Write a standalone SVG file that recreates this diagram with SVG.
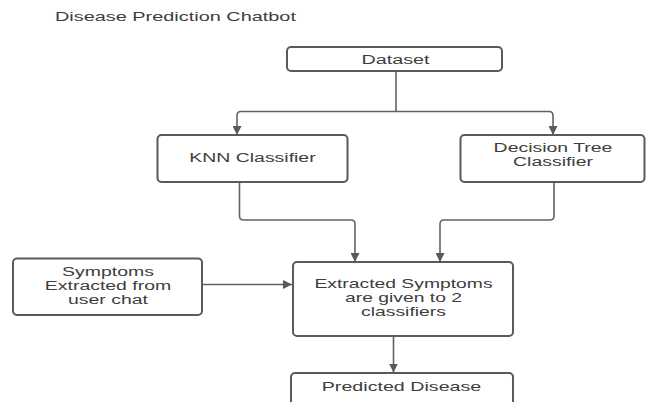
<svg xmlns="http://www.w3.org/2000/svg" width="647" height="402" viewBox="0 0 647 402">
  <defs>
    <style>
      .box { fill: #ffffff; stroke: #5a5a5a; stroke-width: 2; }
      .lbl { font-family: "Liberation Sans", Arial, sans-serif; font-size: 12px; fill: #3d3d3d; text-anchor: middle; }
      .title { font-family: "Liberation Sans", Arial, sans-serif; font-size: 13px; fill: #3d3d3d; }
      .conn { fill: none; stroke: #626262; stroke-width: 1.6; }
    </style>
    <marker id="arrow" viewBox="0 0 9 9" refX="9" refY="4.5" markerWidth="9" markerHeight="9" markerUnits="userSpaceOnUse" orient="auto">
      <path d="M0,0 L9,4.5 L0,9 z" fill="#5a5a5a"/>
    </marker>
  </defs>
  <rect width="647" height="402" fill="#ffffff"/>

  <g id="title">
    <text class="title" transform="translate(55,0) scale(1.53,1)" x="0" y="21.5">Disease Prediction Chatbot</text>
  </g>

  <g id="connectors">
    <path class="conn" d="M396,71 V111.5"/>
    <path class="conn" d="M396,111.5 H241 Q237,111.5 237,115.5 V135" marker-end="url(#arrow)"/>
    <path class="conn" d="M396,111.5 H549 Q553,111.5 553,115.5 V135" marker-end="url(#arrow)"/>
    <path class="conn" d="M239.5,182 V216 Q239.5,220 243.5,220 H351 Q355,220 355,224 V262" marker-end="url(#arrow)"/>
    <path class="conn" d="M554,182 V216 Q554,220 550,220 H444 Q440,220 440,224 V262" marker-end="url(#arrow)"/>
    <path class="conn" d="M202,284.5 H292" marker-end="url(#arrow)"/>
    <path class="conn" d="M393.5,336 V372.5" marker-end="url(#arrow)"/>
  </g>

  <g id="dataset">
    <rect class="box" x="287" y="47" width="215" height="24" rx="4"/>
    <text class="lbl" transform="translate(395.5,0) scale(1.65,1)" x="0" y="64">Dataset</text>
  </g>

  <g id="knn">
    <rect class="box" x="157.5" y="135" width="190" height="47" rx="4"/>
    <text class="lbl" transform="translate(252.5,0) scale(1.62,1)" x="0" y="162">KNN Classifier</text>
  </g>

  <g id="decision-tree">
    <rect class="box" x="460.5" y="135" width="184" height="47" rx="4"/>
    <text class="lbl" transform="translate(553,0) scale(1.62,1)" x="0" y="152">Decision Tree</text>
    <text class="lbl" transform="translate(553,0) scale(1.62,1)" x="0" y="166.5">Classifier</text>
  </g>

  <g id="symptoms-chat">
    <rect class="box" x="13" y="258.5" width="189" height="56.5" rx="4"/>
    <text class="lbl" transform="translate(108,0) scale(1.62,1)" x="0" y="276.5">Symptoms</text>
    <text class="lbl" transform="translate(108,0) scale(1.62,1)" x="0" y="290.5">Extracted from</text>
    <text class="lbl" transform="translate(108,0) scale(1.62,1)" x="0" y="304.5">user chat</text>
  </g>

  <g id="extracted-symptoms">
    <rect class="box" x="293" y="262" width="220" height="74" rx="4"/>
    <text class="lbl" transform="translate(403.5,0) scale(1.61,1)" x="0" y="288.5">Extracted Symptoms</text>
    <text class="lbl" transform="translate(403.5,0) scale(1.61,1)" x="0" y="302.5">are given to 2</text>
    <text class="lbl" transform="translate(403.5,0) scale(1.61,1)" x="0" y="316.5">classifiers</text>
  </g>

  <g id="predicted-disease">
    <rect class="box" x="291" y="373" width="222" height="40" rx="4"/>
    <text class="lbl" transform="translate(401.5,0) scale(1.64,1)" x="0" y="391">Predicted Disease</text>
  </g>
</svg>
